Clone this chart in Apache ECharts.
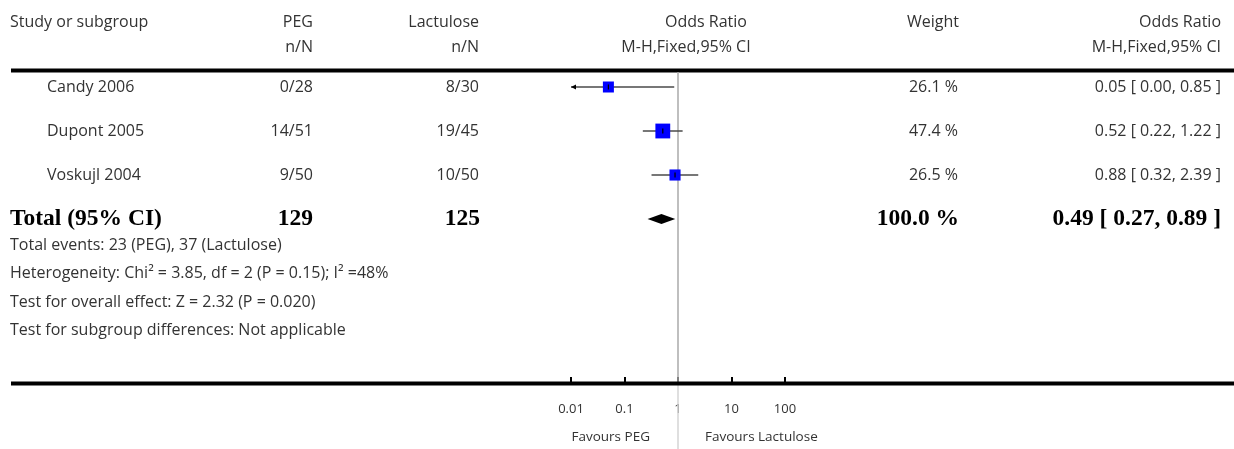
<!DOCTYPE html>
<html><head><meta charset="utf-8">
<script src="https://cdn.jsdelivr.net/npm/echarts/dist/echarts.min.js"></script>
<style>html,body{margin:0;padding:0;background:#fff}#c{width:1234px;height:449px}</style>
</head><body><div id="c"></div>
<script>
// ---- data ----
const studies = ['Candy 2006', 'Dupont 2005', 'Voskujl 2004'];
const pegN = ['0/28', '14/51', '9/50'];
const lacN = ['8/30', '19/45', '10/50'];
const weights = [26.1, 47.4, 26.5];
const orValues = [0.05, 0.52, 0.88];
const ciLower = [0.00, 0.22, 0.32];
const ciUpper = [0.85, 1.22, 2.39];
const totalLabel = 'Total (95% CI)';
const totalPeg = '129';
const totalLac = '125';
const totalWeight = '100.0 %';
const totalOR = [0.49];
const totalLower = [0.27];
const totalUpper = [0.89];
const footnotes = [
  'Total events: 23 (PEG), 37 (Lactulose)',
  'Heterogeneity: Chi\u00B2 = 3.85, df = 2 (P = 0.15); I\u00B2 =48%',
  'Test for overall effect: Z = 2.32 (P = 0.020)',
  'Test for subgroup differences: Not applicable'
];
const tickValues = [0.01, 0.1, 1, 10, 100];
const tickLabels = ['0.01', '0.1', '1', '10', '100'];
const favours = ['Favours PEG', 'Favours Lactulose'];

// ---- layout ----
const FONT = '"Open Sans", Lato, sans-serif';
const BOLD = '"Liberation Serif", "DejaVu Serif", serif';
const TXT = '#333';
const rowPix = r => 87 + 44 * r;
const fmt = v => v.toFixed(2);

const chart = echarts.init(document.getElementById('c'), null, {renderer: 'canvas'});

function txt(text, x, y, align, opts) {
  opts = opts || {};
  return {
    type: 'text', silent: true, z: 10,
    style: {
      text: text, x: x, y: y,
      textAlign: align, align: align,
      textVerticalAlign: 'middle', verticalAlign: 'middle',
      fill: opts.fill || TXT,
      font: opts.font || ('16px ' + FONT)
    }
  };
}

const graphics = [];
// header
graphics.push(txt('Study or subgroup', 10, 22, 'left'));
graphics.push(txt('PEG', 313, 22, 'right'));
graphics.push(txt('n/N', 313, 47, 'right'));
graphics.push(txt('Lactulose', 479, 22, 'right'));
graphics.push(txt('n/N', 479, 47, 'right'));
graphics.push(txt('Odds Ratio', 706, 22, 'center'));
graphics.push(txt('M-H,Fixed,95% CI', 686, 47, 'center'));
graphics.push(txt('Weight', 959, 22, 'right'));
graphics.push(txt('Odds Ratio', 1221, 22, 'right'));
graphics.push(txt('M-H,Fixed,95% CI', 1221, 47, 'right'));
// rules
graphics.push({type: 'rect', silent: true, shape: {x: 11, y: 68.5, width: 1223, height: 4}, style: {fill: '#000'}});
graphics.push({type: 'rect', silent: true, shape: {x: 11, y: 381.5, width: 1223, height: 4}, style: {fill: '#000'}, z: 5});
// study rows
studies.forEach((s, i) => {
  const y = rowPix(i);
  graphics.push(txt(s, 47, y, 'left'));
  graphics.push(txt(pegN[i], 313, y, 'right'));
  graphics.push(txt(lacN[i], 479, y, 'right'));
  graphics.push(txt(weights[i].toFixed(1) + ' %', 958, y, 'right'));
  graphics.push(txt(fmt(orValues[i]) + ' [ ' + fmt(ciLower[i]) + ', ' + fmt(ciUpper[i]) + ' ]', 1221, y, 'right'));
});
// total row
const ty = rowPix(3);
const bfont = 'bold 23.5px ' + BOLD;
graphics.push(txt(totalLabel, 10, ty, 'left', {font: bfont, fill: '#000'}));
graphics.push(txt(totalPeg, 313, ty, 'right', {font: bfont, fill: '#000'}));
graphics.push(txt(totalLac, 480, ty, 'right', {font: bfont, fill: '#000'}));
graphics.push(txt(totalWeight, 959, ty, 'right', {font: bfont, fill: '#000'}));
graphics.push(txt(fmt(totalOR[0]) + ' [ ' + fmt(totalLower[0]) + ', ' + fmt(totalUpper[0]) + ' ]', 1221, ty, 'right', {font: bfont, fill: '#000'}));
// footnotes
footnotes.forEach((f, i) => graphics.push(txt(f, 10, 245 + 28.5 * i, 'left')));
// favours
graphics.push(txt(favours[0], 650, 437, 'right', {font: '13.5px ' + FONT}));
graphics.push(txt(favours[1], 705, 437, 'left', {font: '13.5px ' + FONT}));

const Y_MIN = -17 / 44, Y_MAX = 296 / 44;
const X_MIN = tickValues[0], X_MAX = tickValues[tickValues.length - 1];

const studyData = studies.map((s, i) => [i, orValues[i], ciLower[i], ciUpper[i], weights[i]]);
const totalData = totalOR.map((v, i) => [3, v, totalLower[i], totalUpper[i]]);

function renderStudy(params, api) {
  const y = api.value(0);
  const or = api.value(1), lo = api.value(2), hi = api.value(3), w = api.value(4);
  const loC = Math.max(lo, X_MIN), hiC = Math.min(hi, X_MAX);
  const pLo = api.coord([loC, y]), pHi = api.coord([hiC, y]), pC = api.coord([or, y]);
  const size = 2.153 * Math.sqrt(w);
  const children = [
    {type: 'line', shape: {x1: pLo[0], y1: pLo[1], x2: pHi[0], y2: pHi[1]}, style: {stroke: '#4a4a4a', lineWidth: 1.5}},
    {type: 'rect', shape: {x: pC[0] - size / 2, y: pC[1] - size / 2, width: size, height: size}, style: {fill: '#0000ff'}},
    {type: 'line', shape: {x1: pC[0], y1: pC[1] - 2.5, x2: pC[0], y2: pC[1] + 2.5}, style: {stroke: '#000', lineWidth: 1.2}}
  ];
  if (lo < X_MIN) {
    children.push({type: 'polygon', shape: {points: [[pLo[0], pLo[1]], [pLo[0] + 5, pLo[1] - 2.5], [pLo[0] + 5, pLo[1] + 2.5]]}, style: {fill: '#000'}});
  }
  if (hi > X_MAX) {
    children.push({type: 'polygon', shape: {points: [[pHi[0], pHi[1]], [pHi[0] - 5, pHi[1] - 2.5], [pHi[0] - 5, pHi[1] + 2.5]]}, style: {fill: '#000'}});
  }
  return {type: 'group', children: children};
}

function renderDiamond(params, api) {
  const y = api.value(0);
  const c = api.coord([api.value(1), y]);
  const l = api.coord([api.value(2), y]);
  const r = api.coord([api.value(3), y]);
  return {type: 'polygon', shape: {points: [[l[0], l[1]], [c[0], c[1] - 5], [r[0], r[1]], [c[0], c[1] + 5]]}, style: {fill: '#000'}};
}

function renderNull(params, api) {
  const top = api.coord([api.value(0), Y_MIN]);
  const bot = api.coord([api.value(0), Y_MAX]);
  return {type: 'group', children: [
    {type: 'line', shape: {x1: top[0], y1: top[1] + 2, x2: bot[0], y2: bot[1]}, style: {stroke: '#aaa', lineWidth: 1.5}},
    {type: 'line', shape: {x1: bot[0], y1: bot[1], x2: bot[0], y2: bot[1] + 66}, style: {stroke: '#d4d4d4', lineWidth: 1.5}}
  ]};
}

chart.setOption({
  animation: false,
  backgroundColor: '#fff',
  grid: {left: 571, width: 214, top: 70, height: 313, containLabel: false},
  xAxis: {
    type: 'log', logBase: 10, min: X_MIN, max: X_MAX, position: 'bottom',
    axisLine: {show: false, onZero: false},
    axisTick: {show: true, inside: true, length: 6, lineStyle: {color: '#000', width: 2}},
    splitLine: {show: false},
    axisLabel: {
      margin: 20, color: TXT, fontSize: 13, fontFamily: FONT,
      formatter: v => { const k = tickValues.findIndex(t => Math.abs(Math.log10(t) - Math.log10(v)) < 1e-6); return k >= 0 ? tickLabels[k] : ''; }
    }
  },
  yAxis: {type: 'value', min: Y_MIN, max: Y_MAX, inverse: true, show: false},
  series: [
    {type: 'custom', name: 'null', renderItem: renderNull, data: [[1]], encode: {x: 0}, z: 1, silent: true},
    {type: 'custom', name: 'studies', renderItem: renderStudy, data: studyData, encode: {x: 1, y: 0}, z: 3, silent: true},
    {type: 'custom', name: 'total', renderItem: renderDiamond, data: totalData, encode: {x: 1, y: 0}, z: 3, silent: true}
  ],
  graphic: graphics
});
</script>
</body></html>
